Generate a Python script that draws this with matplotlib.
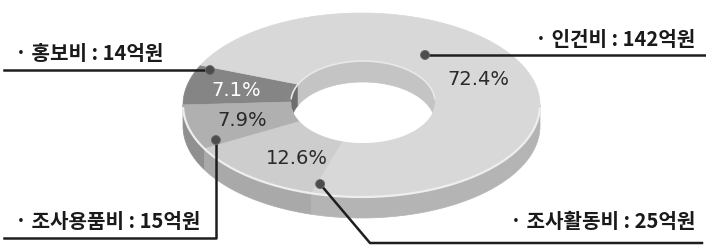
import numpy as np
import matplotlib
matplotlib.use("Agg")
import matplotlib.pyplot as plt
from matplotlib.patches import Polygon, Circle

plt.rcParams['font.family'] = ['Noto Sans CJK KR', 'DejaVu Sans']

# 데이터 (억원)
items = ["홍보비", "조사용품비", "조사활동비", "인건비"]
amounts = [14, 15, 25, 142]
shares = [7.1, 7.9, 12.6, 72.4]
labels = ["· 홍보비 : 14억원", "· 조사용품비 : 15억원", "· 조사활동비 : 25억원", "· 인건비 : 142억원"]

top_colors = ["#858585", "#b0b0b0", "#cdcdcd", "#d8d8d8"]
side_colors = ["#656565", "#909090", "#a9a9a9", "#b4b4b4"]
wall_colors = ["#6e6e6e", "#9a9a9a", "#bcbcbc", "#c4c4c4"]
pct_colors = ["white", "#2a2a2a", "#2a2a2a", "#2a2a2a"]

# 도넛 모양 (픽셀 좌표)
OUT = (361.5, 105, 178.5, 92)
INN = (363, 102, 72, 41)
DEPTH = 21
START = 154.4


def ell(e, th, dy=0):
    cx, cy, a, b = e
    th = np.radians(th)
    return np.column_stack([cx + a * np.cos(th), cy - b * np.sin(th) + dy])


def arc(e, t1, t2, dy=0):
    return ell(e, np.linspace(t1, t2, max(int(abs(t2 - t1)), 2) + 1), dy)


def overlap(t1, t2, lo, hi):
    a, b = max(t1, lo), min(t2, hi)
    return (a, b) if b > a else None


fig = plt.figure(figsize=(7.06, 2.48), dpi=100)
ax = fig.add_axes([0, 0, 1, 1])
ax.set_xlim(0, 706)
ax.set_ylim(248, 0)
ax.axis("off")

total = sum(shares)
bounds = []
t = START
for s in shares:
    bounds.append((t, t + 360 * s / total))
    t += 360 * s / total

# 옆면 (앞쪽 절반)
for (t1, t2), c in zip(bounds, side_colors):
    for lo, hi in [(180, 360), (540, 720)]:
        ov = overlap(t1, t2, lo, hi)
        if ov:
            pts = np.vstack([arc(OUT, ov[0], ov[1]), arc(OUT, ov[1], ov[0], DEPTH)])
            ax.add_patch(Polygon(pts, closed=True, fc=c, ec=c, lw=0.5))

# 윗면
for (t1, t2), c in zip(bounds, top_colors):
    pts = np.vstack([arc(OUT, t1, t2), arc(INN, t2, t1)])
    ax.add_patch(Polygon(pts, closed=True, fc=c, ec=c, lw=0.5))

# 안쪽 벽 (뒤쪽 절반)
hole = Polygon(arc(INN, 0, 360), closed=True, fc="white", ec="none")
ax.add_patch(hole)
for (t1, t2), c in zip(bounds, wall_colors):
    for lo, hi in [(0, 180), (360, 540)]:
        ov = overlap(t1, t2, lo, hi)
        if ov:
            pts = np.vstack([arc(INN, ov[0], ov[1]), arc(INN, ov[1], ov[0], DEPTH)])
            p = Polygon(pts, closed=True, fc=c, ec=c, lw=0.5)
            ax.add_patch(p)
            p.set_clip_path(hole)

# 테두리 하이라이트
ax.plot(*arc(OUT, 182, 358).T, color="#eeeeee", lw=1.6)
ax.plot(*arc(INN, 5, 175).T, color="#e8e8e8", lw=1.2)

# 퍼센트 라벨
pct_shift = [0, 0, 7, -1.5]
pct_r = [0.72, 0.69, 0.68, 0.71]
for (t1, t2), s, c, dt, r in zip(bounds, shares, pct_colors, pct_shift, pct_r):
    th = (t1 + t2) / 2 + dt
    x, y = ell((OUT[0], OUT[1], OUT[2] * r, OUT[3] * r), th)[0]
    ax.text(x, y, f"{s}%", color=c, fontsize=14, ha="center", va="center",
            family="DejaVu Sans")

# 지시선과 항목 라벨
dot_pos = [(155.9, 0.93), (205.0, 0.90), (254.9, 0.89), (56.8, 0.65)]
dots = [ell((OUT[0], OUT[1], OUT[2] * r, OUT[3] * r), th)[0] for th, r in dot_pos]
lc = "#1e1e1e"
tc = "#1a1a1a"
fs = 14.5
for (x, y) in dots:
    ax.add_patch(Circle((x, y), 4.5, fc="#4d4d4d", ec="#6a6a6a", lw=0.6, zorder=5))

# 홍보비
x, y = dots[0]
ax.plot([4, x], [y, y], color=lc, lw=1.8, zorder=4)
ax.text(15, 54, labels[0], fontsize=fs, weight="bold", color=tc, ha="left", va="center")
# 조사용품비
x, y = dots[1]
ax.plot([4, x, x], [238, 238, y], color=lc, lw=1.8, zorder=4)
ax.text(15, 222, labels[1], fontsize=fs, weight="bold", color=tc, ha="left", va="center")
# 조사활동비
x, y = dots[2]
ax.plot([702, 370, x], [243, 243, y], color=lc, lw=1.8, zorder=4)
ax.text(695, 222, labels[2], fontsize=fs, weight="bold", color=tc, ha="right", va="center")
# 인건비
x, y = dots[3]
ax.plot([x, 706], [y, y], color=lc, lw=1.8, zorder=4)
ax.text(695, 40, labels[3], fontsize=fs, weight="bold", color=tc, ha="right", va="center")

fig.savefig("out.png", dpi=100)
